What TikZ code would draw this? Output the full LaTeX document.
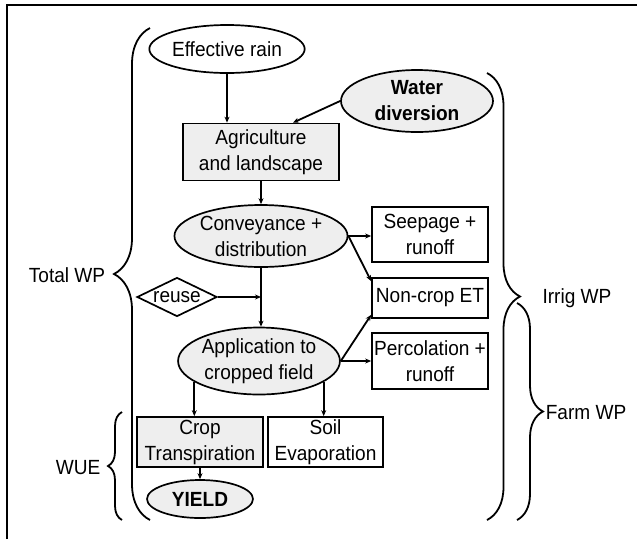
\documentclass[tikz,border=0pt]{standalone}
\usepackage{fontspec}
\setmainfont{Liberation Sans}[FakeStretch=0.93]
\usetikzlibrary{shapes.geometric,arrows.meta,decorations.pathreplacing}
\definecolor{lightfill}{RGB}{238,238,238}

\begin{document}
\begin{tikzpicture}[x=1pt,y=-1pt,
        every node/.style={font=\fontsize{20.5}{26}\selectfont,align=center,inner sep=0pt},
        blk/.style={draw,rectangle,line width=1.7pt},
        oval/.style={draw,ellipse,line width=1.7pt},
        shade/.style={fill=lightfill},
        arr/.style={-{Stealth[length=6pt,width=5pt]},line width=1.8pt},
        brc/.style={decorate,line width=1.8pt,decoration={brace,amplitude=#1}}]
        \useasboundingbox (0,0) rectangle (637,539);
        \draw[line width=2.5pt] (7,539) -- (7,5) -- (637,5);

        \node (erain)    at (227,49)    [oval,minimum width=142,minimum height=48] {Effective rain};
        \node (wdiv)     at (417,101)   [oval,shade,minimum width=152,minimum height=62] {\textbf{Water}\\\textbf{diversion}};
        \node (agland)   at (261,152)   [blk,shade,minimum width=156,minimum height=57] {Agriculture\\and landscape};
        \node (convdist) at (261,236)   [oval,shade,minimum width=158,minimum height=62] {Conveyance +\\distribution};
        \node (seepage)  at (430,234.5) [blk,minimum width=116,minimum height=55] {Seepage +\\runoff};
        \node (noncrop)  at (430,298)   [blk,minimum width=116,minimum height=40] {Non-crop ET};
        \node (percol)   at (430,361)   [blk,minimum width=116,minimum height=56] {Percolation +\\runoff};
        \node (reuse)    at (177,297)   [draw,diamond,aspect=2,line width=1.7pt,minimum width=80,minimum height=39] {reuse};
        \node (appfield) at (259,361)   [oval,shade,minimum width=156,minimum height=67] {Application to\\cropped field};
        \node (croptr)   at (200,442)   [blk,shade,minimum width=126,minimum height=50] {Crop\\Transpiration};
        \node (soilev)   at (325.5,442) [blk,minimum width=115,minimum height=50] {Soil\\Evaporation};
        \node (yield)    at (200,499)   [oval,shade,minimum width=106,minimum height=38] {\textbf{YIELD}};

        \draw[arr] (erain.south) -- (erain.south |- agland.north);
        \draw[arr] (wdiv.west) -- ([xshift=32pt]agland.north);
        \draw[arr] (agland.south) -- (convdist.north);
        \draw[arr] (convdist.east) -- (convdist.east -| seepage.west);
        \draw[arr] (convdist.east) -- ([yshift=-4pt]noncrop.north west);
        \draw[arr] (convdist.south) -- (convdist.south |- appfield.north);
        \draw[arr] (reuse.east) -- (reuse.east -| convdist.south);
        \draw[arr] (appfield.east) -- ([yshift=4pt]noncrop.south west);
        \draw[arr] (appfield.east) -- (appfield.east -| percol.west);
        \draw[arr] (appfield.-162) -- (appfield.-162 |- croptr.north);
        \draw[arr] (appfield.-18) -- (appfield.-18 |- soilev.north);
        \draw[arr] (croptr.south) -- (yield.north);

        \draw[brc=36pt] (150,520) -- (150,28);
        \draw[brc=14pt] (122,520) -- (122,412);
        \draw[brc=33pt] (487,73) -- (487,520);
        \draw[brc=26pt] (517,303) -- (517,520);
        \node (totalwp) at (67,275)  {Total WP};
        \node (wue)     at (78,468)  {WUE};
        \node (irrigwp) at (577,298) {Irrig WP};
        \node (farmwp)  at (586,413) {Farm WP};
    \end{tikzpicture}
\end{document}
